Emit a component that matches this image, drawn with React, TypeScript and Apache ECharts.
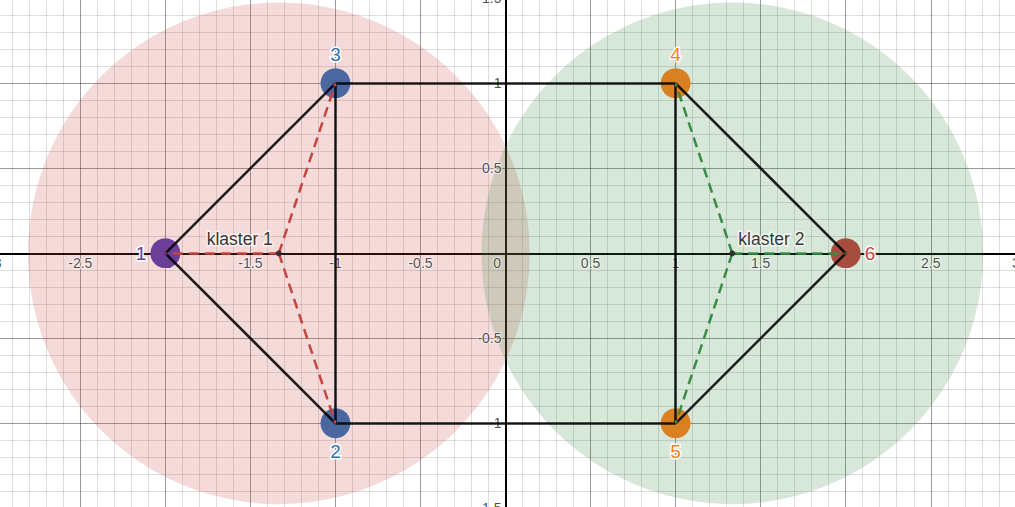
import React, { useEffect, useRef } from "react";
import * as echarts from "echarts";

// ---- data ----
const pointLabels = ["1", "2", "3", "4", "5", "6"];
const pointXs = [-2, -1, -1, 1, 1, 2];
const pointYs = [0, -1, 1, 1, -1, 0];
const pointFill = ["#6b3f98", "#4a67a0", "#4a67a0", "#d98022", "#d98022", "#a64d3e"];
const pointText = ["#6042a6", "#2d70b3", "#2d70b3", "#fa7e19", "#fa7e19", "#c74440"];
const labelPos = ["left", "bottom", "top", "top", "bottom", "right"];
const edges = [
  [0, 2], [0, 1], [2, 1], [2, 3], [1, 4], [3, 4], [3, 5], [4, 5],
];
const clusterNames = ["klaster 1", "klaster 2"];
const clusterXs = [-1.333, 1.333];
const clusterYs = [0, 0];
const clusterMembers = [[0, 1, 2], [3, 4, 5]];
const clusterRadius = [1.475, 1.475];
const clusterFill = ["rgba(199,68,64,0.2)", "rgba(56,140,70,0.2)"];
const clusterLine = ["#c74440", "#388c46"];
const clusterLabelPos = ["left", "right"];

const xTickLabels = ["-3", "-2.5", "-2", "-1.5", "-1", "-0.5", "0", "0.5", "1", "1.5", "2", "2.5", "3"];
const yTickLabels = ["-1.5", "-1", "-0.5", "0.5", "1", "1.5"];

const FONT = "'Liberation Sans', Arial, sans-serif";

export default function App() {
  const ref = useRef<HTMLDivElement>(null);
  useEffect(() => {
    if (!ref.current) return;
    const chart = echarts.init(ref.current, null, { renderer: "svg" });

    const axisCommon = (isX: boolean) => ({
      type: "value",
      min: isX ? -3 : -1.5,
      max: isX ? 3 : 1.5,
      interval: 0.5,
      axisLine: { show: true, onZero: true, lineStyle: { color: "#000", width: 2 } },
      axisTick: { show: false },
      minorTick: { show: false, splitNumber: 5 },
      splitLine: { show: true, lineStyle: { color: "rgba(0,0,0,0.4)", width: 1 } },
      minorSplitLine: { show: true, lineStyle: { color: "rgba(0,0,0,0.13)", width: 1 } },
      axisLabel: { show: false },
    });

    const tickLabelStyle = {
      show: true,
      fontFamily: FONT,
      fontSize: 14,
      color: "#222",
      textBorderColor: "rgba(255,255,255,0.75)",
      textBorderWidth: 2,
    };

    const circleData = clusterXs.map((x, i) => [x, clusterYs[i], clusterRadius[i], i]);

    const edgeData = edges.map(([a, b]) => ({
      coords: [
        [pointXs[a], pointYs[a]],
        [pointXs[b], pointYs[b]],
      ],
    }));

    const dashedSeries = clusterMembers.map((members, ci) => ({
      type: "lines",
      coordinateSystem: "cartesian2d",
      z: 4,
      silent: true,
      lineStyle: { color: clusterLine[ci], width: 2.5, opacity: 1, type: [10, 6] },
      data: members.map((m) => ({
        coords: [
          [clusterXs[ci], clusterYs[ci]],
          [pointXs[m], pointYs[m]],
        ],
      })),
    }));

    const option: any = {
      animation: false,
      grid: {
        left: -4.7,
        right: -0.8,
        top: -1.7,
        bottom: -1.3,
        containLabel: false,
        outerBoundsMode: "none",
      },
      xAxis: axisCommon(true),
      yAxis: axisCommon(false),
      series: [
        {
          type: "custom",
          z: 1,
          silent: true,
          clip: false,
          data: circleData,
          renderItem: (params: any, api: any) => {
            const c = api.coord([api.value(0), api.value(1)]);
            const r = api.size([api.value(2), 0])[0];
            const idx = api.value(3);
            return {
              type: "circle",
              shape: { cx: c[0], cy: c[1], r },
              style: { fill: clusterFill[idx], stroke: null },
            };
          },
        },
        // x tick labels along the y=0 axis
        {
          type: "scatter",
          z: 1.5,
          silent: true,
          symbolSize: 0,
          data: xTickLabels.map((t) => ({
            value: [parseFloat(t), 0],
            label: {
              ...tickLabelStyle,
              formatter: t,
              position: "bottom",
              distance: 3,
              offset: parseFloat(t) === 0 ? [-8.5, 0] : [0, 0],
            },
          })),
        },
        // y tick labels along the x=0 axis
        {
          type: "scatter",
          z: 1.5,
          silent: true,
          symbolSize: 0,
          data: yTickLabels.map((t) => ({
            value: [0, parseFloat(t)],
            label: {
              ...tickLabelStyle,
              formatter: t,
              position: "left",
              distance: 4,
            },
          })),
        },
        {
          type: "scatter",
          z: 2,
          symbol: "circle",
          symbolSize: 30,
          data: pointXs.map((x, i) => ({
            value: [x, pointYs[i]],
            itemStyle: { color: pointFill[i], opacity: 1 },
            label: {
              show: true,
              formatter: pointLabels[i],
              position: labelPos[i],
              distance: 4,
              color: pointText[i],
              fontFamily: FONT,
              fontSize: 19,
              textBorderColor: "#fff",
              textBorderWidth: 3,
            },
          })),
        },
        {
          type: "lines",
          coordinateSystem: "cartesian2d",
          z: 3,
          silent: true,
          lineStyle: { color: "#000", width: 2.5, opacity: 0.88 },
          data: edgeData,
        },
        ...dashedSeries,
        {
          type: "scatter",
          z: 5,
          symbol: "circle",
          symbolSize: 6,
          itemStyle: { color: "#222" },
          data: clusterXs.map((x, i) => ({
            value: [x, clusterYs[i]],
            label: {
              show: true,
              formatter: clusterNames[i],
              position: clusterLabelPos[i],
              distance: 3,
              offset: [0, -14],
              color: "#000",
              fontFamily: FONT,
              fontSize: 17.5,
              textBorderColor: "rgba(255,255,255,0.8)",
              textBorderWidth: 3,
            },
          })),
        },
      ],
    };

    chart.setOption(option);
    return () => chart.dispose();
  }, []);

  return (
    <div
      ref={ref}
      style={{ position: "fixed", left: 0, top: 0, width: 1015, height: 507, background: "#fff" }}
    />
  );
}
